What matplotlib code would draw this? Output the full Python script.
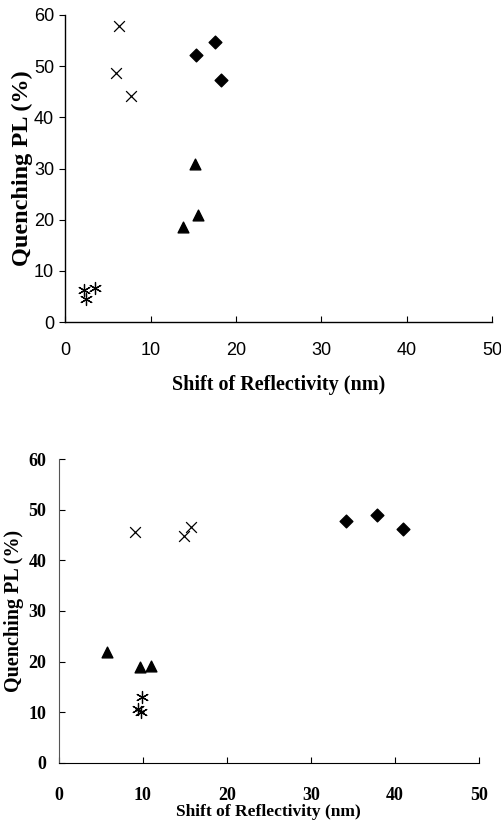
import numpy as np
import matplotlib
matplotlib.use('Agg')
import matplotlib.pyplot as plt

# top panel data
top_cross_x = [6.3, 5.9, 7.7]
top_cross_y = [57.8, 48.7, 44.2]
top_diam_x = [15.3, 17.6, 18.3]
top_diam_y = [52.2, 54.7, 47.3]
top_tri_x = [15.2, 15.5, 13.8]
top_tri_y = [30.8, 20.9, 18.5]
top_ast_x = [2.2, 2.4, 3.5]
top_ast_y = [6.3, 4.5, 6.6]

# bottom panel data
bot_cross_x = [9.1, 14.9, 15.7]
bot_cross_y = [45.5, 44.9, 46.5]
bot_diam_x = [34.2, 37.9, 41.0]
bot_diam_y = [47.8, 48.9, 46.1]
bot_tri_x = [5.8, 9.7, 11.0]
bot_tri_y = [21.9, 18.9, 19.1]
bot_ast_x = [9.9, 9.4, 9.8]
bot_ast_y = [13.1, 10.6, 10.1]

xticks = [0, 10, 20, 30, 40, 50]
yticks = [0, 10, 20, 30, 40, 50, 60]

fig = plt.figure(figsize=(5.02, 8.26), dpi=100)
ax1 = fig.add_axes([0.130, 0.610, 0.850, 0.372])
ax2 = fig.add_axes([0.117, 0.0763, 0.837, 0.368])

ast = (6, 2, 0)

def draw(ax, cx, cy, dx, dy, tx, ty, sx, sy):
    ax.scatter(cx, cy, marker='x', s=60, color='black', linewidths=0.9)
    ax.scatter(dx, dy, marker='D', s=42, color='black')
    ax.scatter(tx, ty, marker='^', s=60, color='black')
    ax.scatter(sx, sy, marker=ast, s=75, color='black', linewidths=0.9)
    ax.set_xlim(0, 50)
    ax.set_ylim(0, 60)
    ax.set_xticks(xticks)
    ax.set_yticks(yticks)
    ax.spines['top'].set_visible(False)
    ax.spines['right'].set_visible(False)

draw(ax1, top_cross_x, top_cross_y, top_diam_x, top_diam_y,
     top_tri_x, top_tri_y, top_ast_x, top_ast_y)
draw(ax2, bot_cross_x, bot_cross_y, bot_diam_x, bot_diam_y,
     bot_tri_x, bot_tri_y, bot_ast_x, bot_ast_y)

# top panel: sans tick labels
ax1.tick_params(axis='x', direction='in', length=4, pad=14, labelsize=13)
ax1.tick_params(axis='y', direction='out', length=4, pad=4, labelsize=13)
for lab in ax1.get_xticklabels() + ax1.get_yticklabels():
    lab.set_family('Liberation Sans')
ax1.set_xlabel('Shift of Reflectivity (nm)', family='Liberation Serif',
               fontweight='bold', fontsize=14.5, labelpad=12)
ax1.set_ylabel('Quenching PL (%)', family='Liberation Serif',
               fontweight='bold', fontsize=17.5, labelpad=1)
for s in ['left', 'bottom']:
    ax1.spines[s].set_linewidth(1.0)

# bottom panel: bold serif tick labels
ax2.tick_params(axis='both', direction='in', length=4, labelsize=13)
ax2.tick_params(axis='x', pad=17)
ax2.tick_params(axis='y', pad=9)
for lab in ax2.get_xticklabels() + ax2.get_yticklabels():
    lab.set_family('Liberation Serif')
    lab.set_fontweight('bold')
ax2.set_xlabel('Shift of Reflectivity (nm)', family='Liberation Serif',
               fontweight='bold', fontsize=12.5, labelpad=0)
ax2.set_ylabel('Quenching PL (%)', family='Liberation Serif',
               fontweight='bold', fontsize=14.5, labelpad=3)
ax2.spines['left'].set_color('#555555')

fig.savefig('out.png', dpi=100)
